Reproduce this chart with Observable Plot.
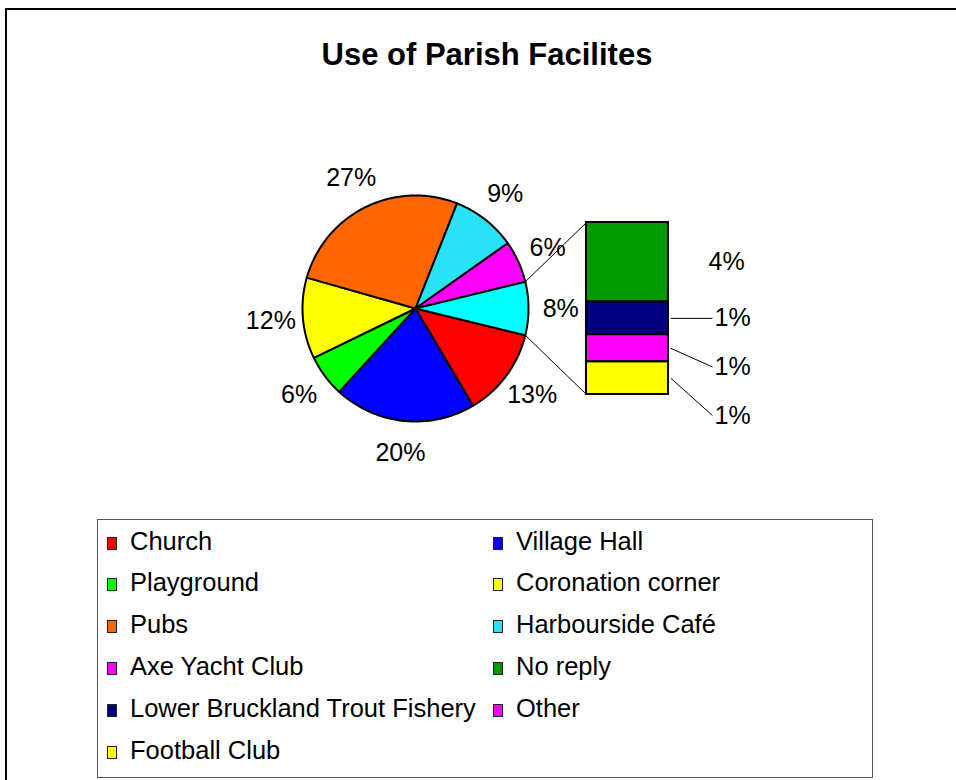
<!DOCTYPE html>
<html>
<head>
<meta charset="utf-8">
<script src="https://cdn.jsdelivr.net/npm/d3@7"></script>
<script src="https://cdn.jsdelivr.net/npm/@observablehq/plot@0.6"></script>
<style>
  html, body { margin: 0; padding: 0; background: #fff; overflow: hidden; }
  body { width: 956px; height: 780px; position: relative; font-family: "Liberation Sans", Arial, sans-serif; color: #000; }
  #frame { position: absolute; left: 5px; top: 8px; width: 1200px; height: 1200px; border-left: 2px solid #000; border-top: 2px solid #000; }
  #title { position: absolute; left: 0; width: 974px; top: 37px; text-align: center; font-weight: bold; font-size: 31px; line-height: 36px; }
  #chart { position: absolute; left: 0; top: 130px; }
  #legend { position: absolute; left: 97px; top: 519px; width: 776px; height: 259px; border: 1px solid #555; box-sizing: border-box; }
  .item { position: absolute; height: 30px; display: flex; align-items: center; font-size: 25.5px; white-space: nowrap; }
  .sw { width: 8px; height: 11px; border: 1.5px solid #222; margin-right: 13px; margin-top: 4px; flex: none; }
</style>
</head>
<body>
<div id="frame"></div>
<div id="title">Use of Parish Facilites</div>
<div id="chart"></div>
<div id="legend"></div>
<script>
// ---- data ----
const pieNames = ["Church", "Village Hall", "Playground", "Coronation corner", "Pubs", "Harbourside Café", "Axe Yacht Club"];
const pieValues = [12.7, 20.3, 6.0, 11.6, 26.6, 9.2, 6.0];
const pieColors = ["#ff0000", "#0000ff", "#00ff00", "#ffff00", "#ff6600", "#29e2f5", "#ff00ff"];
const barNames = ["No reply", "Lower Bruckland Trout Fishery", "Other", "Football Club"];
const barValues = [3.51, 1.45, 1.2, 1.44];
const barColors = ["#009900", "#000080", "#ff00ff", "#ffff00"];
const otherSliceColor = "#00ffff";

// ---- layout ----
const W = 956, H = 370, R = 113, CX = 415, CY = 178;
const barLeft = 1.513, barWidth = 0.726, barHalf = 0.761;
const labelR = 1.285, labelGap = 0.43, barLabelOffset = 0.354, leaderShift = 0.053;

const otherTotal = d3.sum(barValues);
const total = d3.sum(pieValues) + otherTotal;
const pct = v => `${Math.round(v / total * 100)}%`;
const rad = d => d * Math.PI / 180;
const pt = (a, r = 1) => ({x: r * Math.cos(rad(a)), y: -r * Math.sin(rad(a))});

// slices clockwise, "other" slice centered at 3 o'clock
const otherAngle = otherTotal / total * 360;
const slices = [];
let ang = otherAngle / 2;
pieNames.forEach((n, i) => {
  const span = pieValues[i] / total * 360;
  slices.push({name: n, value: pieValues[i], color: pieColors[i], a0: ang, a1: ang + span});
  ang += span;
});
slices.push({name: "other", value: otherTotal, color: otherSliceColor, a0: -otherAngle / 2, a1: otherAngle / 2});

const slicePoints = s => {
  const pts = [{x: 0, y: 0}];
  const n = Math.max(2, Math.ceil(s.a1 - s.a0));
  for (let k = 0; k <= n; k++) pts.push(pt(s.a0 + (s.a1 - s.a0) * k / n));
  return pts;
};

const pieLabels = slices.map(s => ({...pt((s.a0 + s.a1) / 2, labelR), text: pct(s.value)}));

// bar segments (top to bottom)
const unit = (2 * barHalf) / otherTotal;
let cursor = barHalf;
const segs = barNames.map((n, i) => {
  const h = barValues[i] * unit;
  const s = {name: n, value: barValues[i], color: barColors[i], y2: cursor, y1: cursor - h, mid: cursor - h / 2};
  cursor -= h;
  return s;
});
let prevY = Infinity;
segs.forEach(s => { s.ly = Math.min(s.mid, prevY - labelGap); prevY = s.ly; });
const barRight = barLeft + barWidth;
const labelX = barRight + barLabelOffset;
segs.forEach(s => { s.leader = s.value < 2; s.lx = s.leader ? labelX + leaderShift : labelX; });
const leaders = segs.filter(s => s.leader);

const connectors = [
  {x1: pt(-otherAngle / 2).x, y1: pt(-otherAngle / 2).y, x2: barLeft, y2: barHalf},
  {x1: pt(otherAngle / 2).x, y1: pt(otherAngle / 2).y, x2: barLeft, y2: -barHalf}
];

const chart = Plot.plot({
  width: W, height: H, margin: 0,
  x: {domain: [-CX / R, (W - CX) / R], range: [0, W], axis: null},
  y: {domain: [-(H - CY) / R, CY / R], range: [H, 0], axis: null},
  color: {type: "identity"},
  style: {fontFamily: "'Liberation Sans', Arial, sans-serif", background: "transparent", overflow: "visible"},
  marks: [
    ...slices.map(s => Plot.line(slicePoints(s), {x: "x", y: "y", fill: s.color, stroke: "black", strokeWidth: 2, strokeLinejoin: "round", curve: "linear-closed"})),
    Plot.link(connectors, {x1: "x1", y1: "y1", x2: "x2", y2: "y2", stroke: "black", strokeWidth: 1}),
    Plot.rect(segs, {x1: () => barLeft, x2: () => barRight, y1: "y1", y2: "y2", fill: "color", stroke: "black", strokeWidth: 2}),
    Plot.link(leaders, {x1: () => barRight + 0.02, y1: "mid", x2: () => labelX + 0.035, y2: "ly", stroke: "black", strokeWidth: 1}),
    Plot.text(pieLabels, {x: "x", y: "y", text: "text", fontSize: 25, fill: "black", textAnchor: "middle"}),
    Plot.text(segs, {x: "lx", y: "ly", text: d => pct(d.value), fontSize: 25, fill: "black", textAnchor: "start"})
  ]
});
document.getElementById("chart").appendChild(chart);

// ---- legend ----
const legendNames = pieNames.concat(barNames);
const legendColors = pieColors.concat(barColors);
const legend = document.getElementById("legend");
const colX = [9, 395], rowY0 = 6, rowStep = 41.8;
legendNames.forEach((n, i) => {
  const div = document.createElement("div");
  div.className = "item";
  div.style.left = colX[i % 2] + "px";
  div.style.top = (rowY0 + Math.floor(i / 2) * rowStep) + "px";
  const sw = document.createElement("span");
  sw.className = "sw";
  sw.style.background = legendColors[i];
  div.appendChild(sw);
  div.appendChild(document.createTextNode(n));
  legend.appendChild(div);
});
</script>
</body>
</html>
